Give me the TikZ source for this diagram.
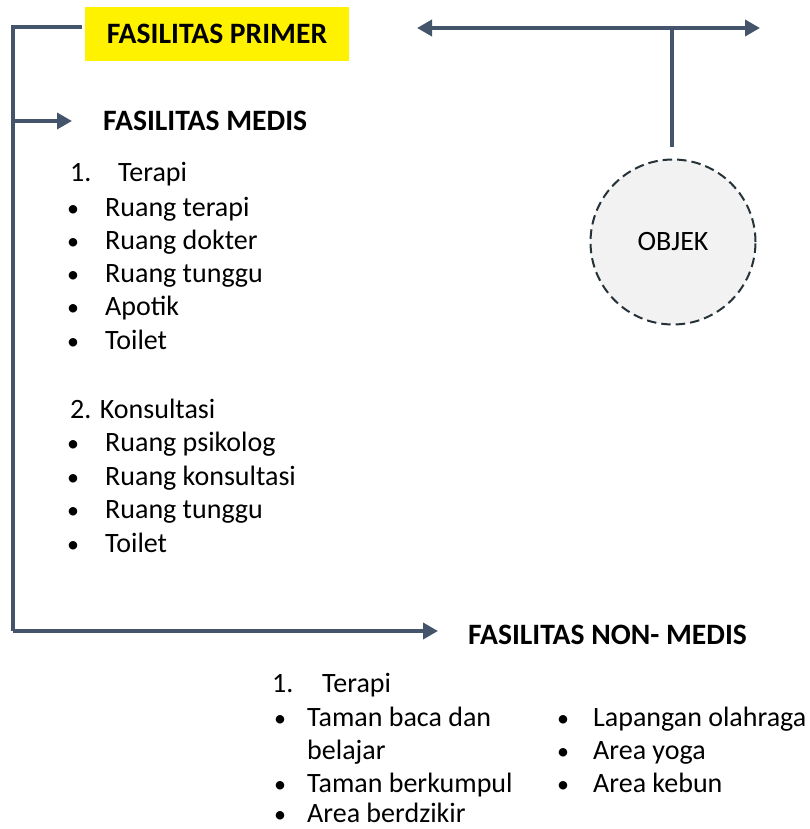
\documentclass[tikz,border=0pt]{standalone}
\usepackage{fontspec}
\setmainfont{Carlito}
\usetikzlibrary{arrows.meta}
\definecolor{slate}{HTML}{44546A}
\definecolor{objfill}{HTML}{F2F2F2}
\definecolor{objline}{HTML}{263238}
\tikzset{
  conn/.style={draw=slate, line width=3.6pt},
  arrowtip/.tip={Triangle[length=15pt,width=16pt]},
  tipped/.style={-{arrowtip}},
  txt/.style={anchor=base west, inner sep=0pt, font=\fontsize{28}{34}\selectfont},
  bul/.style={anchor=base, inner sep=0pt, font=\fontsize{24}{28}\selectfont},
  head/.style={anchor=base west, inner sep=0pt, font=\fontsize{29.6}{35}\selectfont\bfseries},
}
\begin{document}
\begin{tikzpicture}[x=1pt,y=-1pt]
\useasboundingbox (0,0) rectangle (810,829);
% yellow title
\node[fill=yellow, minimum width=264pt, minimum height=54pt, inner sep=0pt,
      font=\fontsize{29.6}{35}\selectfont\bfseries] (primer) at (217,34) {FASILITAS PRIMER};
% left bracket
\coordinate (tl) at (13,27);
\coordinate (bl) at (13,631);
\coordinate (ml) at (13,121);
\coordinate (topend) at (82,27);
\coordinate (medtip) at (72,121);
\coordinate (nontip) at (438,631);
\node[head] (medis) at (103,131) {FASILITAS MEDIS};
\node[head] (nonmedis) at (468,644) {FASILITAS NON- MEDIS};
\draw[conn] (topend) -- (tl) -- (bl);
\draw[conn,tipped] (ml) -- (medtip);
\draw[conn,tipped] (bl) -- (nontip);
% top arrows and objek
\coordinate (la) at (417,28);
\coordinate (ra) at (760,28);
\coordinate (jn) at (672,28);
\node[circle, draw=objline, dash pattern=on 9.5pt off 5pt, line width=2pt, fill=objfill,
      minimum size=165pt, inner sep=0pt, font=\fontsize{28}{34}\selectfont] (objek) at (673,242) {OBJEK};
\coordinate (stemend) at (672,147);
\draw[conn,{arrowtip}-{arrowtip}] (la) -- (ra);
\draw[conn] (jn) -- (stemend);
% medis list
\node[txt] (m1n) at (70,182) {1.};
\node[txt] (m1) at (118,182) {Terapi};
\foreach \t/\y [count=\i] in {Ruang terapi/216, Ruang dokter/249, Ruang tunggu/282, Apotik/315, Toilet/349}{
  \node[bul] (mb\i) at (73,\y) {•};
  \node[txt] (mt\i) at (105,\y) {\t};
}
\node[txt] (m2) at (70,418) {2. Konsultasi};
\foreach \t/\y [count=\i] in {Ruang psikolog/451, Ruang konsultasi/485, Ruang tunggu/518, Toilet/552}{
  \node[bul] (kb\i) at (73,\y) {•};
  \node[txt] (kt\i) at (105,\y) {\t};
}
% non medis list
\node[txt] (n1n) at (272,692) {1.};
\node[txt] (n1) at (322,692) {Terapi};
\node[bul] (nb1) at (280,726) {•};
\node[txt] (nt1) at (307,726) {Taman baca dan};
\node[txt] (nt1b) at (307,759) {belajar};
\node[bul] (nb2) at (280,792) {•};
\node[txt] (nt2) at (307,792) {Taman berkumpul};
\node[bul] (nb3) at (280,822) {•};
\node[txt] (nt3) at (307,822) {Area berdzikir};
\node[bul] (rb1) at (563,726) {•};
\node[txt] (rt1) at (593,726) {Lapangan olahraga};
\node[bul] (rb2) at (563,759) {•};
\node[txt] (rt2) at (593,759) {Area yoga};
\node[bul] (rb3) at (563,792) {•};
\node[txt] (rt3) at (593,792) {Area kebun};
\end{tikzpicture}
\end{document}
